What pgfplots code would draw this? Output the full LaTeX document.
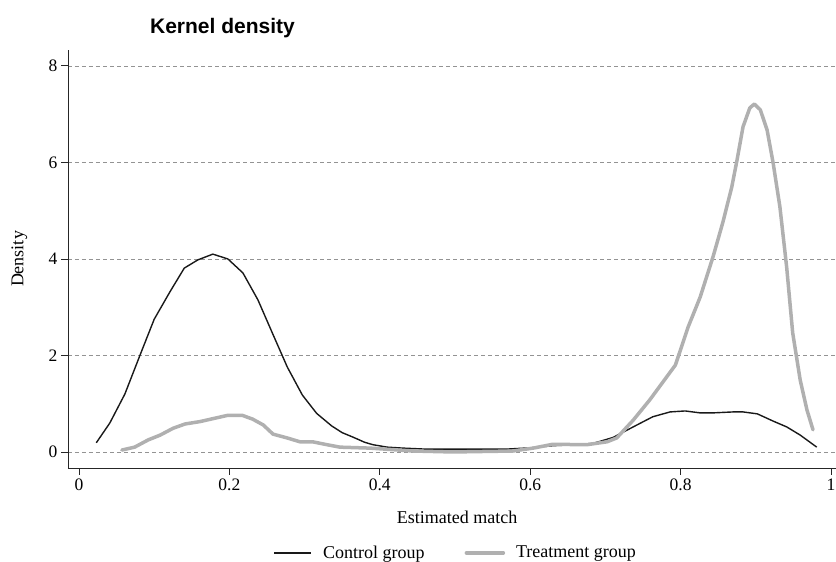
\documentclass[border=0pt]{standalone}
\usepackage{pgfplots}
\pgfplotsset{compat=1.18}
\usepackage{fontspec}
\setmainfont{Liberation Serif}
\newfontfamily\titlefont{Liberation Sans}

\pgfplotstableread{
x y
0.023 0.19
0.041 0.60
0.061 1.20
0.081 2.00
0.100 2.75
0.121 3.32
0.140 3.81
0.158 3.98
0.178 4.10
0.198 4.00
0.218 3.71
0.238 3.15
0.257 2.47
0.277 1.76
0.297 1.18
0.316 0.80
0.336 0.54
0.350 0.40
0.364 0.31
0.380 0.20
0.391 0.15
0.410 0.10
0.431 0.08
0.460 0.06
0.500 0.06
0.569 0.06
0.604 0.09
0.630 0.13
0.660 0.15
0.684 0.18
0.710 0.30
0.737 0.52
0.763 0.73
0.786 0.83
0.806 0.85
0.826 0.81
0.843 0.81
0.870 0.83
0.883 0.83
0.902 0.79
0.923 0.64
0.941 0.52
0.959 0.35
0.981 0.10
}\control

\pgfplotstableread{
x y
0.057 0.04
0.074 0.10
0.092 0.25
0.108 0.35
0.125 0.49
0.141 0.58
0.161 0.63
0.178 0.69
0.198 0.76
0.217 0.76
0.231 0.68
0.245 0.56
0.258 0.37
0.277 0.29
0.294 0.21
0.311 0.21
0.330 0.15
0.347 0.10
0.387 0.08
0.444 0.02
0.497 0.00
0.577 0.02
0.604 0.08
0.630 0.16
0.675 0.15
0.702 0.21
0.715 0.29
0.737 0.66
0.759 1.08
0.793 1.80
0.810 2.59
0.826 3.21
0.843 4.04
0.856 4.75
0.868 5.49
0.875 6.05
0.883 6.74
0.892 7.13
0.898 7.21
0.906 7.09
0.915 6.67
0.923 5.99
0.932 5.08
0.941 3.83
0.949 2.47
0.959 1.49
0.968 0.87
0.976 0.46
}\treatment

\begin{document}
\begin{tikzpicture}[x=1pt,y=1pt]
\useasboundingbox (0,0) rectangle (836,562);
\begin{axis}[
  at={(68pt,94pt)}, anchor=south west,
  scale only axis, width=768pt, height=418pt,
  xmin=-0.0146, xmax=1.0066, ymin=-0.332, ymax=8.33,
  axis x line*=bottom, axis y line*=left,
  axis line style={line width=0.9pt, black!85},
  xtick={0,0.2,0.4,0.6,0.8,1}, ytick={0,2,4,6,8},
  tick align=outside, major tick length=7pt,
  tick style={black!85, line width=0.9pt},
  ymajorgrids,
  grid style={dash pattern=on 4pt off 3pt, gray!85, line width=0.8pt},
  /pgf/number format/assume math mode=true,
  ticklabel style={font=\fontsize{17.5}{20}\selectfont},
  xlabel={Estimated match}, ylabel={Density},
  label style={font=\fontsize{18}{21}\selectfont},
  xlabel style={at={(axis description cs:0.5065,-0.117)}, anchor=center},
  ylabel style={at={(axis description cs:-0.0632,0.5)}, anchor=center},
  legend columns=2,
  legend style={at={(axis description cs:0.505,-0.203)}, anchor=center,
    draw=none, fill=none, font=\fontsize{18}{21}\selectfont,
    /tikz/every odd column/.append style={column sep=9pt},
    /tikz/every even column/.append style={column sep=38pt}},
  legend image code/.code={\draw[#1] (0pt,0pt) -- (37pt,0pt);},
]
\addplot[black!90, line width=1.4pt, line join=round] table[x=x,y=y] {\control};
\addlegendentry{Control group}
\addplot[gray!62, line width=3.5pt, line join=round, line cap=round] table[x=x,y=y] {\treatment};
\addlegendentry{Treatment group}
\end{axis}
\node[font=\titlefont\bfseries\fontsize{21}{24}\selectfont, anchor=base] at (222.5,528.7) {Kernel density};
\end{tikzpicture}
\end{document}
